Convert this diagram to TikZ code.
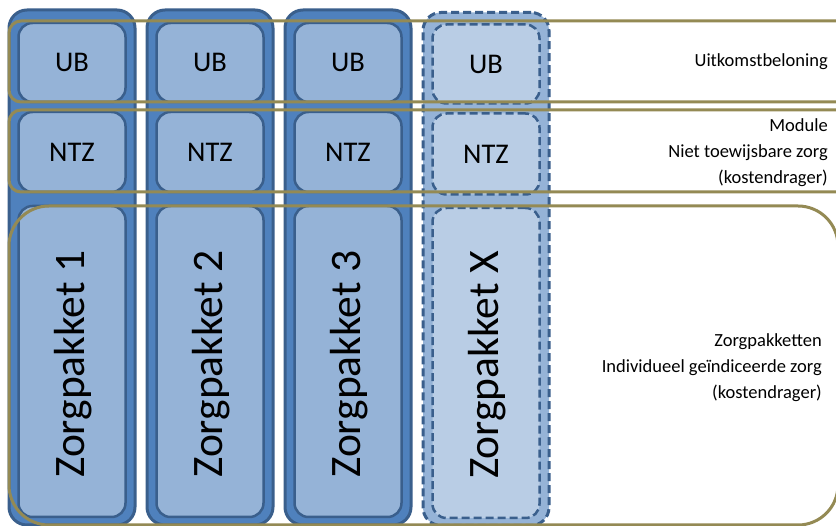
\documentclass[tikz,border=0pt]{standalone}
\usepackage{fontspec}
\setmainfont{Carlito}
\begin{document}
\begin{tikzpicture}[x=1pt,y=-1pt,
  outercol/.style={draw=colB, fill=colA, line width=3pt, rounded corners=18pt, inner sep=0pt, minimum width=126pt},
  innerbox/.style={draw=colB, fill=colC, line width=2.5pt, rounded corners=14pt, inner sep=0pt, minimum width=107pt, font=\fontsize{28.5}{32}\selectfont},
  outercolx/.style={draw=colB, fill=colC, line width=3pt, dash pattern=on 8pt off 4pt, rounded corners=18pt, inner sep=0pt, minimum width=126pt},
  innerboxx/.style={draw=colB, fill=colD, line width=2.5pt, dash pattern=on 8pt off 4pt, rounded corners=14pt, inner sep=0pt, minimum width=107pt, font=\fontsize{28.5}{32}\selectfont},
  band/.style={draw=colO, line width=3pt, rounded corners=12pt, inner sep=0pt},
  bandlabel/.style={anchor=east, align=right, inner sep=0pt, font=\fontsize{18.5}{26}\selectfont},
  zptext/.style={rotate=90, font=\fontsize{43.5}{48}\selectfont}
]
\definecolor{colA}{HTML}{4F81BD}
\definecolor{colB}{HTML}{3A5F8C}
\definecolor{colC}{HTML}{95B3D7}
\definecolor{colD}{HTML}{B9CDE5}
\definecolor{colO}{HTML}{948A54}
\clip (0,0) rectangle (836,526);
\fill[white] (0,0) rectangle (836,526);

% columns 1-3
\foreach \i/\cx in {1/72,2/210,3/348}{
  \node[outercol, minimum height=515pt] (col\i) at (\cx,267.5) {};
  \node[innerbox, minimum height=79pt] (ub\i) at (\cx,62.5) {UB};
  \node[innerbox, minimum height=80pt] (ntz\i) at (\cx,152) {NTZ};
  \node[innerbox, minimum height=311pt] (zp\i) at (\cx,361.5) {};
  \node[zptext] (zpt\i) at (\cx+1,364) {Zorgpakket \i};
}
% column X
\node[outercolx, minimum height=513pt] (colx) at (486,269) {};
\node[innerboxx, minimum height=79pt] (ubx) at (486,64) {UB};
\node[innerboxx, minimum height=81pt] (ntzx) at (486,154) {NTZ};
\node[innerboxx, minimum height=310pt] (zpx) at (486,363) {};
\node[zptext] (zptx) at (487,365) {Zorgpakket X};

% bands
\node[band, minimum width=851pt, minimum height=81pt] (bandub) at (434.5,61.5) {};
\node[band, minimum width=851pt, minimum height=82pt] (bandntz) at (434.5,151) {};
\node[band, rounded corners=40pt, minimum width=829pt, minimum height=319pt] (bandzp) at (423.5,365.5) {};

% labels
\node[bandlabel] (lub) at (828,62) {Uitkomstbeloning};
\node[bandlabel] (lntz) at (828,153) {Module\\Niet toewijsbare zorg\\(kostendrager)};
\node[bandlabel] (lzp) at (822,368) {Zorgpakketten\\Individueel geïndiceerde zorg\\(kostendrager)};
\end{tikzpicture}
\end{document}
